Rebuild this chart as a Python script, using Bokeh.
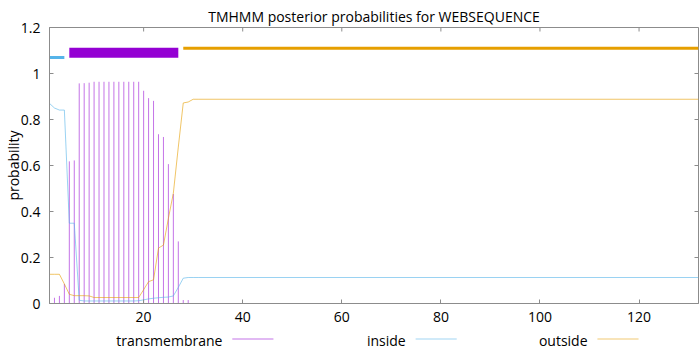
import math
from bokeh.plotting import figure
from bokeh.layouts import column
from bokeh.models import FixedTicker, Range1d
from bokeh.core.properties import value
from bokeh.embed import file_html
from bokeh.resources import INLINE

# ---- data ----
tm_pos = list(range(1, 30))
transmembrane = [0.020, 0.025, 0.033, 0.085, 0.618, 0.622, 0.957, 0.958, 0.960, 0.964,
                 0.964, 0.964, 0.964, 0.964, 0.964, 0.964, 0.964, 0.964, 0.964, 0.925,
                 0.893, 0.881, 0.736, 0.724, 0.606, 0.476, 0.270, 0.015, 0.015]

line_pos = list(range(1, 32)) + [132]
inside = [0.870, 0.850, 0.841, 0.841, 0.349, 0.349, 0.014, 0.011, 0.011, 0.011,
          0.011, 0.011, 0.011, 0.011, 0.011, 0.011, 0.011, 0.011, 0.012, 0.016,
          0.020, 0.023, 0.025, 0.027, 0.028, 0.033, 0.070, 0.110, 0.113, 0.113,
          0.113, 0.113]
outside = [0.127, 0.127, 0.127, 0.085, 0.040, 0.034, 0.034, 0.034, 0.033, 0.026,
           0.026, 0.026, 0.026, 0.026, 0.026, 0.026, 0.026, 0.026, 0.026, 0.060,
           0.095, 0.103, 0.241, 0.254, 0.370, 0.480, 0.680, 0.872, 0.876, 0.888,
           0.888, 0.888]

# predicted topology bars (inside / TM helix / outside)
seg_start = [1, 5, 28]
seg_end = [4, 27, 132]
seg_level = [1.07, 1.09, 1.11]

x_min, x_max = 1, 132
y_min, y_max = 0, 1.2
x_ticks = [20, 40, 60, 80, 100, 120]
y_ticks = [0, 0.2, 0.4, 0.6, 0.8, 1.0, 1.2]
y_tick_labels = ["0", "0.2", "0.4", "0.6", "0.8", "1", "1.2"]
series_names = ["transmembrane", "inside", "outside"]
title_text = "TMHMM posterior probabilities for WEBSEQUENCE"

PURPLE = "#9400d3"
BLUE = "#56b4e9"
ORANGE = "#e69f00"
FONT = "Open Sans"
AX = "#8c8c8c"

xr = Range1d(x_min, x_max)
p = figure(width=700, height=330, x_range=xr, y_range=Range1d(y_min, y_max),
           output_backend="svg", toolbar_location=None,
           min_border_left=49, min_border_right=2, min_border_top=27, min_border_bottom=27)

p.title.text = title_text
p.title.align = "center"
p.title.text_font = FONT
p.title.text_font_size = "14px"
p.title.text_font_style = "normal"
p.title.text_color = "#000000"
p.title.standoff = 4

p.xgrid.visible = False
p.ygrid.visible = False
p.outline_line_color = AX
p.background_fill_color = "white"
p.border_fill_color = "white"

for ax in (p.xaxis[0], p.yaxis[0]):
    ax.major_tick_in = 4
    ax.major_tick_out = 0
    ax.minor_tick_in = 0
    ax.minor_tick_out = 0
    ax.axis_line_color = AX
    ax.major_tick_line_color = AX
    ax.major_label_text_font = FONT
    ax.major_label_text_font_size = "14px"
    ax.major_label_text_color = "#000000"
    ax.axis_label_text_font = FONT
    ax.axis_label_text_font_size = "14px"
    ax.axis_label_text_font_style = "normal"
    ax.axis_label_text_color = "#000000"

p.xaxis[0].ticker = FixedTicker(ticks=x_ticks)
p.xaxis[0].major_label_standoff = 8
p.yaxis[0].ticker = FixedTicker(ticks=y_ticks)
p.yaxis[0].major_label_overrides = {t: l for t, l in zip(y_ticks, y_tick_labels)}
p.yaxis[0].major_label_standoff = 9
p.yaxis[0].axis_label = "probability"
p.yaxis[0].axis_label_standoff = -5

# mirrored tick marks on top and right edges
p.ray(x=x_ticks, y=[y_max] * len(x_ticks), length=4, length_units="screen",
      angle=-math.pi / 2, line_color=AX, line_width=1)
p.ray(x=[x_max] * len(y_ticks), y=y_ticks, length=4, length_units="screen",
      angle=math.pi, line_color=AX, line_width=1)

# transmembrane impulses
p.segment(x0=tm_pos, y0=[0] * len(tm_pos), x1=tm_pos, y1=transmembrane,
          line_color=PURPLE, line_alpha=0.55, line_width=1)
# inside / outside curves
p.line(line_pos, inside, line_color=BLUE, line_alpha=0.6, line_width=1)
p.line(line_pos, outside, line_color=ORANGE, line_alpha=0.6, line_width=1)

# topology bars
bar_colors = [BLUE, PURPLE, ORANGE]
bar_widths = [3, 10, 3]
for s, e, lv, c, w in zip(seg_start, seg_end, seg_level, bar_colors, bar_widths):
    p.segment(x0=[s], y0=[lv], x1=[e], y1=[lv], line_color=c, line_width=w)

# key strip below (text then sample line, gnuplot style); shares the x scale
k = figure(width=700, height=25, x_range=xr, y_range=Range1d(0, 25),
           output_backend="svg", toolbar_location=None,
           x_axis_location=None, y_axis_location=None,
           min_border_left=49, min_border_right=2, min_border_top=0, min_border_bottom=0)
k.xgrid.visible = False
k.ygrid.visible = False
k.outline_line_color = None
k.border_fill_color = "white"
k.background_fill_color = "white"

key_text_end = [35.9, 72.9, 109.6]
key_line = [(37.9, 46.2), (74.9, 83.2), (111.6, 119.9)]
key_colors = [PURPLE, BLUE, ORANGE]
key_y = 15.5
k.text(x=key_text_end, y=[key_y] * 3, text=series_names, text_align="right",
       text_baseline="middle", text_font=value(FONT), text_font_size="14px",
       text_color="#000000")
k.segment(x0=[a for a, b in key_line], y0=[key_y + 1] * 3,
          x1=[b for a, b in key_line], y1=[key_y + 1] * 3,
          line_color=key_colors, line_alpha=0.55, line_width=1)

layout = column(p, k, spacing=0)
open("out.html", "w").write(file_html(layout, INLINE))
